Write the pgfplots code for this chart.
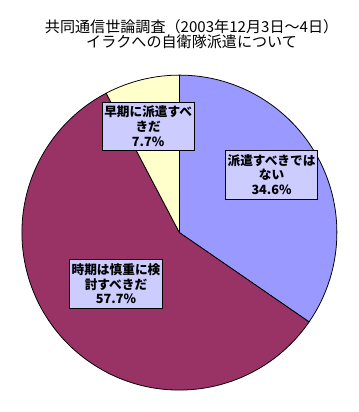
\documentclass[border=0pt]{standalone}
\usepackage{pgfplots}
\usepackage{pgfplotstable}
\pgfplotsset{compat=1.18}
\usepackage{fontspec}
\newfontfamily\cjk{Noto Sans CJK JP}

\definecolor{sliceA}{HTML}{9999FF}
\definecolor{sliceB}{HTML}{993366}
\definecolor{sliceC}{HTML}{FFFFCC}
\definecolor{labelfill}{HTML}{CCCCFF}

% Kyodo poll, 3-4 Dec 2003: shares in percent, clockwise from 12 o'clock
\pgfplotstableread{
share
34.6
57.7
7.7
}\survey

\begin{document}
\begin{tikzpicture}[x=0.75pt,y=0.75pt]
\begin{axis}[
  scale only axis,
  width=273pt, height=309pt,
  xmin=0, xmax=364, ymin=0, ymax=412,
  hide axis,
  clip=false,
]
\pgfplotsextra{
  \def\R{121.1pt}
  \xdef\start{90}
  \foreach \i/\col in {0/sliceA,1/sliceB,2/sliceC} {
    \pgfplotstablegetelem{\i}{share}\of\survey
    \pgfmathsetmacro\sweep{3.6*\pgfplotsretval}
    \pgfmathsetmacro\stop{\start-\sweep}
    \filldraw[fill=\col, draw=black, line width=0.6pt, line join=round]
      (axis cs:180.5,173.5) -- ++(\start:\R)
      arc[start angle=\start, end angle=\stop, radius=\R] -- cycle;
    \xdef\start{\stop}
  }
  \path (axis cs:0,0) rectangle (axis cs:364,412);
}
% title
\node[font=\cjk\fontsize{11.6pt}{11.4pt}\selectfont, align=center, inner sep=0pt]
  at (axis cs:193,377) {共同通信世論調査（2003年12月3日～4日）\\イラクへの自衛隊派遣について};
% data labels
\tikzset{lbl/.style={draw=black, line width=0.6pt, fill=labelfill, align=center,
  font=\cjk\bfseries\fontsize{9.75pt}{11.25pt}\selectfont,
  minimum width=71pt, minimum height=37.5pt, inner sep=1pt}}
\node[lbl] at (axis cs:148.5,282.5) {早期に派遣すべ\\きだ\\7.7\%};
\node[lbl] at (axis cs:275,233) {派遣すべきでは\\ない\\34.6\%};
\node[lbl] at (axis cs:115.5,121) {時期は慎重に検\\討すべきだ\\57.7\%};
\end{axis}
\end{tikzpicture}
\end{document}
